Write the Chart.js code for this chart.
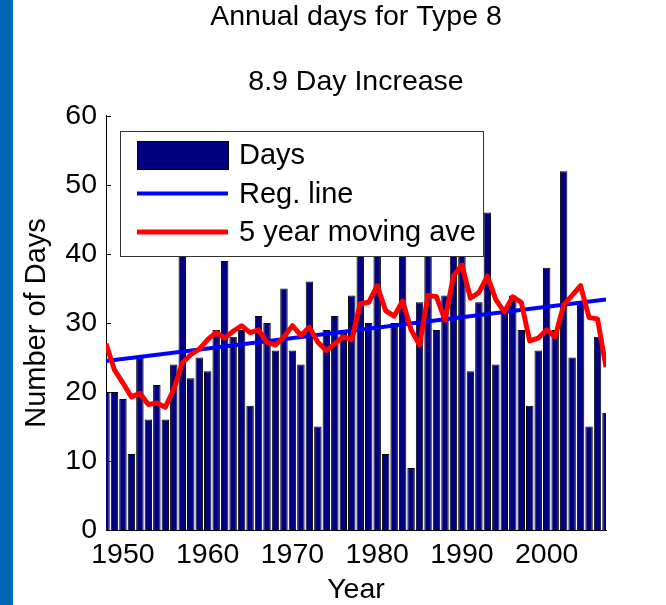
<!DOCTYPE html>
<html>
<head>
<meta charset="utf-8">
<script src="https://cdn.jsdelivr.net/npm/chart.js@4.4.1/dist/chart.umd.min.js"></script>
<style>
  html, body { margin: 0; padding: 0; background: #ffffff; overflow: hidden; }
  #wrap { position: relative; width: 666px; height: 605px; }
  #c { position: absolute; left: 0; top: 0; }
  #stripe { position: absolute; left: 0; top: 0; width: 13px; height: 605px; background: #0067b2; }
</style>
</head>
<body>
<div id="wrap">
  <canvas id="c" width="666" height="605"></canvas>
  <div id="stripe"></div>
</div>
<script>
// ---- data ----
const years = [
  1948, 1949, 1950, 1951, 1952, 1953, 1954, 1955, 1956, 1957,
  1958, 1959, 1960, 1961, 1962, 1963, 1964, 1965, 1966, 1967,
  1968, 1969, 1970, 1971, 1972, 1973, 1974, 1975, 1976, 1977,
  1978, 1979, 1980, 1981, 1982, 1983, 1984, 1985, 1986, 1987,
  1988, 1989, 1990, 1991, 1992, 1993, 1994, 1995, 1996, 1997,
  1998, 1999, 2000, 2001, 2002, 2003, 2004, 2005, 2006, 2007
];
const days = [
  20, 20, 19, 11, 25, 16, 21, 16, 24, 44,
  22, 25, 23, 29, 39, 28, 29, 18, 31, 30,
  26, 35, 26, 24, 36, 15, 29, 31, 29, 34,
  41, 30, 43, 11, 30, 51,  9, 33, 47, 29,
  34, 41, 41, 23, 33, 46, 24, 32, 34, 29,
  18, 26, 38, 29, 52, 25, 33, 15, 28, 17
];
const movingAvg = [
  27, 23.2, 21.3, 19.3, 19.8, 18.2, 18.4, 17.8, 20.4, 24.2,
  25.4, 26.2, 27.6, 28.6, 27.8, 28.8, 29.6, 28.6, 29, 27.2,
  26.8, 28, 29.6, 28.2, 29.4, 27.2, 26, 27, 28, 27.6,
  32.8, 33, 35.4, 31.8, 31, 33.2, 29, 26.8, 34, 33.8,
  30.4, 36.8, 38.4, 33.6, 34.4, 36.8, 33.4, 31.6, 33.8, 33,
  27.4, 27.8, 29, 28, 32.6, 34, 35.4, 30.8, 30.6, 23.6
];
const regYears = [1948, 2007];
const regValues = [24.5, 33.4];
const xTickValues = [1950, 1960, 1970, 1980, 1990, 2000];
const yTickValues = [0, 10, 20, 30, 40, 50, 60];
const titleText = 'Annual days for Type 8';
const subtitleText = '8.9 Day Increase';
const xTitle = 'Year';
const yTitle = 'Number of Days';
const seriesLabels = ['Days', 'Reg. line', '5 year moving ave'];

// ---- styling ----
const FONT = "'Liberation Sans', Arial, Helvetica, sans-serif";
const F = (size, lh) => ({ family: FONT, size: size, weight: 'normal', lineHeight: lh || 1.2 });

// inward tick marks on the y axis (drawn under the data, like MATLAB)
const innerTicks = {
  id: 'innerTicks',
  beforeDatasetsDraw(chart) {
    const ctx = chart.ctx, ys = chart.scales.y, a = chart.chartArea;
    ctx.save();
    ctx.strokeStyle = '#000';
    ctx.lineWidth = 1;
    ys.ticks.forEach(t => {
      const py = Math.round(ys.getPixelForValue(t.value)) + 0.5;
      ctx.beginPath();
      ctx.moveTo(a.left, py);
      ctx.lineTo(a.left + 5, py);
      ctx.stroke();
    });
    ctx.restore();
  }
};

// boxed legend inside the plot, on top of the data
const boxLegend = {
  id: 'boxLegend',
  afterDatasetsDraw(chart) {
    const ctx = chart.ctx, a = chart.chartArea;
    const ds = chart.data.datasets;
    const order = [2, 1, 0]; // Days, Reg. line, 5 year moving ave
    ctx.save();
    ctx.font = '29px ' + FONT;
    const textW = Math.max(...order.map(i => ctx.measureText(ds[i].label).width));
    const x0 = a.left + 14, y0 = a.top + 15;
    const padL = 17, sw = 91, gap = 11, padR = 7;
    const w = padL + sw + gap + textW + padR, h = 125;
    ctx.fillStyle = '#ffffff';
    ctx.fillRect(x0, y0, w, h);
    ctx.strokeStyle = '#333333';
    ctx.lineWidth = 1;
    ctx.strokeRect(Math.round(x0) + 0.5, Math.round(y0) + 0.5, Math.round(w), h);
    const rowY = [y0 + 24, y0 + 62.5, y0 + 101];
    order.forEach((di, r) => {
      const d = ds[di];
      const cy = rowY[r];
      const sx = x0 + padL;
      if (d.type === 'bar') {
        ctx.fillStyle = d.backgroundColor;
        ctx.fillRect(sx, cy - 14, sw, 28);
        ctx.strokeStyle = '#000';
        ctx.lineWidth = 1;
        ctx.strokeRect(sx + 0.5, cy - 14 + 0.5, sw, 28);
      } else {
        ctx.strokeStyle = d.borderColor;
        ctx.lineWidth = d.borderWidth;
        ctx.beginPath();
        ctx.moveTo(sx, cy);
        ctx.lineTo(sx + sw, cy);
        ctx.stroke();
      }
      ctx.fillStyle = '#000';
      ctx.textBaseline = 'middle';
      ctx.textAlign = 'left';
      ctx.fillText(d.label, sx + sw + gap, cy + 1);
    });
    ctx.restore();
  }
};

new Chart(document.getElementById('c'), {
  type: 'bar',
  data: {
    labels: years,
    datasets: [
      {
        type: 'line', label: seriesLabels[2], data: movingAvg,
        borderColor: '#ff0000', backgroundColor: '#ff0000', borderWidth: 5,
        pointRadius: 0, tension: 0, borderJoinStyle: 'round', borderCapStyle: 'butt',
        fill: false, order: 0
      },
      {
        type: 'line', label: seriesLabels[1],
        data: regYears.map((x, i) => ({ x: x, y: regValues[i] })),
        borderColor: '#0000ff', backgroundColor: '#0000ff', borderWidth: 4,
        pointRadius: 0, tension: 0, fill: false, order: 1
      },
      {
        type: 'bar', label: seriesLabels[0], data: days,
        backgroundColor: '#000080', borderColor: '#000000', borderWidth: 1,
        barPercentage: 0.88, categoryPercentage: 1.0, order: 2
      }
    ]
  },
  options: {
    responsive: false,
    animation: false,
    devicePixelRatio: 1,
    events: [],
    layout: { padding: { left: 0, right: 60, top: 0, bottom: 0 } },
    plugins: {
      legend: { display: false },
      tooltip: { enabled: false },
      title: {
        display: true, text: titleText, fullSize: false, color: '#000',
        font: F(28.5), padding: { top: 0, bottom: 31 }
      },
      subtitle: {
        display: true, text: subtitleText, fullSize: false, color: '#000',
        font: F(28.5), padding: { top: 0, bottom: 16.6 }
      }
    },
    scales: {
      x: {
        type: 'linear', min: 1948, max: 2007, offset: false,
        grid: { display: false, drawTicks: false, offset: false },
        border: { display: true, color: '#000', width: 1 },
        afterBuildTicks: s => { s.ticks = xTickValues.map(v => ({ value: v })); },
        afterFit: s => { s.height = 75; },
        ticks: {
          color: '#000', font: F(28.5), padding: 8.4, maxRotation: 0, autoSkip: false,
          callback: v => String(v)
        },
        title: {
          display: true, text: xTitle, color: '#000', font: F(28.5, 1.0),
          padding: { top: 0, bottom: 0.75 }
        }
      },
      y: {
        type: 'linear', min: 0, max: 60,
        grid: { display: false, drawTicks: false },
        border: { display: true, color: '#000', width: 1 },
        afterBuildTicks: s => { s.ticks = yTickValues.map(v => ({ value: v })); },
        afterFit: s => { s.width = 106; },
        ticks: { color: '#000', font: F(28.5), padding: 9 },
        title: {
          display: true, text: yTitle, color: '#000', font: F(29),
          padding: { top: 19.5, bottom: 0 }
        }
      }
    }
  },
  plugins: [innerTicks, boxLegend]
});
</script>
</body>
</html>
